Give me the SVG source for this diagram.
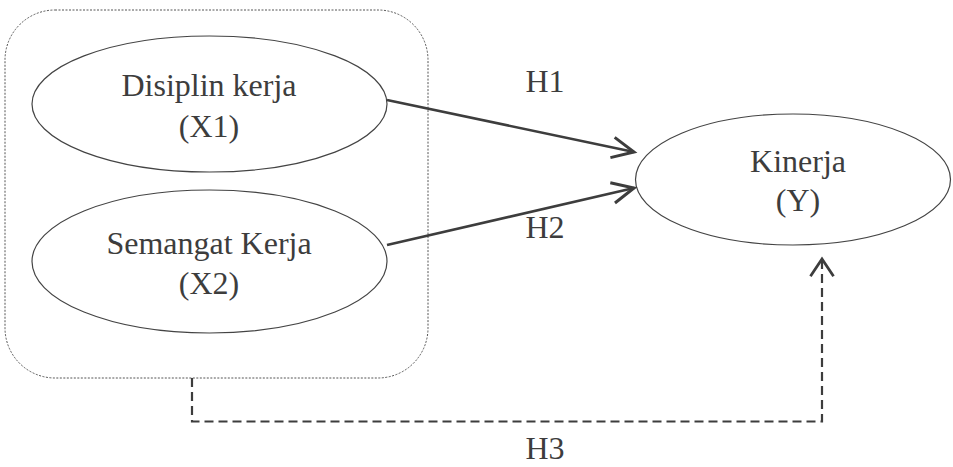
<svg xmlns="http://www.w3.org/2000/svg" width="953" height="467" viewBox="0 0 953 467">
<defs>
<style>
.lbl{font-family:"Liberation Serif","Times New Roman",serif;font-size:32px;fill:#3d3d3d;text-anchor:middle}
.node{fill:none;stroke:#444;stroke-width:1.2}
.edge{fill:none;stroke:#3d3d3d;stroke-width:2.6}
.dash{fill:none;stroke:#3d3d3d;stroke-width:2.2;stroke-dasharray:9 5}
</style>
<marker id="arr" markerUnits="userSpaceOnUse" markerWidth="30" markerHeight="30" viewBox="-22 -12 26 24" refX="0" refY="0" orient="auto">
<path d="M -19 -9 L 0 0 L -19 9" fill="none" stroke="#3d3d3d" stroke-width="2.6"/>
</marker>
<marker id="arr2" markerUnits="userSpaceOnUse" markerWidth="30" markerHeight="30" viewBox="-22 -12 26 24" refX="0" refY="0" orient="auto">
<path d="M -15 -10 L 0 0 L -15 10" fill="none" stroke="#3d3d3d" stroke-width="2.4"/>
</marker>
</defs>
<rect width="953" height="467" fill="#fff"/>
<g id="group-box">
<rect x="5" y="10" width="423" height="368" rx="50" ry="50" fill="none" stroke="#555" stroke-width="1" stroke-dasharray="2 1.5"/>
</g>
<g id="node-x1">
<ellipse class="node" cx="209.5" cy="104" rx="177.5" ry="68"/>
<text class="lbl" x="209" y="96">Disiplin kerja</text>
<text class="lbl" x="209" y="137">(X1)</text>
</g>
<g id="node-x2">
<ellipse class="node" cx="209.5" cy="261.5" rx="177.5" ry="71.5"/>
<text class="lbl" x="209" y="254">Semangat Kerja</text>
<text class="lbl" x="209" y="294">(X2)</text>
</g>
<g id="node-y">
<ellipse class="node" cx="793" cy="179.5" rx="157.5" ry="65.5"/>
<text class="lbl" x="798" y="172">Kinerja</text>
<text class="lbl" x="798" y="211">(Y)</text>
</g>
<g id="connectors">
<line class="edge" x1="387" y1="100" x2="634" y2="152" marker-end="url(#arr)"/>
<line class="edge" x1="387" y1="245" x2="634" y2="188" marker-end="url(#arr)"/>
<polyline class="dash" points="192,378 192,421.5 822,421.5 822,259" marker-end="url(#arr2)"/>
<text class="lbl" x="545" y="92">H1</text>
<text class="lbl" x="545" y="238">H2</text>
<text class="lbl" x="545" y="459">H3</text>
</g>
</svg>
